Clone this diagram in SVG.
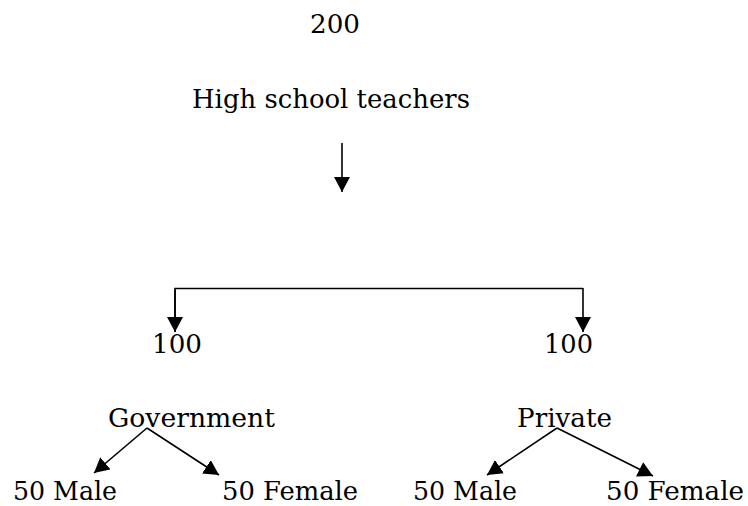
<svg xmlns="http://www.w3.org/2000/svg" width="748" height="506" viewBox="0 0 748 506">
<style>
text{font-family:"DejaVu Serif","Liberation Serif",serif;font-size:26px;fill:#000}
.c{stroke:#000;stroke-width:1.6;fill:none}
</style>
<defs>
<marker id="ah" viewBox="0 0 15 16" refX="15" refY="8" markerWidth="15" markerHeight="16" markerUnits="userSpaceOnUse" orient="auto">
<path d="M0,0 L15,8 L0,16 z" fill="#000"/>
</marker>
</defs>
<rect width="748" height="506" fill="#fff"/>
<g id="root">
<text x="310" y="33" textLength="50" lengthAdjust="spacingAndGlyphs">200</text>
<text x="192" y="108" textLength="278" lengthAdjust="spacingAndGlyphs">High school teachers</text>
</g>
<g id="gov">
<text x="152" y="353" textLength="50" lengthAdjust="spacingAndGlyphs">100</text>
<text x="108" y="427" textLength="167" lengthAdjust="spacingAndGlyphs">Government</text>
</g>
<g id="priv">
<text x="544" y="353" textLength="49" lengthAdjust="spacingAndGlyphs">100</text>
<text x="517" y="427" textLength="95" lengthAdjust="spacingAndGlyphs">Private</text>
</g>
<g id="gov-male"><text x="13" y="500" textLength="104" lengthAdjust="spacingAndGlyphs">50 Male</text></g>
<g id="gov-female"><text x="222" y="500" textLength="136" lengthAdjust="spacingAndGlyphs">50 Female</text></g>
<g id="priv-male"><text x="413" y="500" textLength="104" lengthAdjust="spacingAndGlyphs">50 Male</text></g>
<g id="priv-female"><text x="606" y="500" textLength="138" lengthAdjust="spacingAndGlyphs">50 Female</text></g>
<g id="connectors">
<line class="c" x1="342" y1="143" x2="342" y2="192" marker-end="url(#ah)"/>
<polyline class="c" points="175,332 175,288.5 583,288.5"/>
<line class="c" x1="175" y1="290" x2="175" y2="332" marker-end="url(#ah)"/>
<line class="c" x1="583" y1="288" x2="583" y2="332" marker-end="url(#ah)"/>
<line class="c" x1="147" y1="428" x2="94" y2="473" marker-end="url(#ah)"/>
<line class="c" x1="147" y1="428" x2="219" y2="475" marker-end="url(#ah)"/>
<line class="c" x1="557" y1="428" x2="487" y2="475" marker-end="url(#ah)"/>
<line class="c" x1="557" y1="428" x2="653" y2="476" marker-end="url(#ah)"/>
</g>
</svg>
